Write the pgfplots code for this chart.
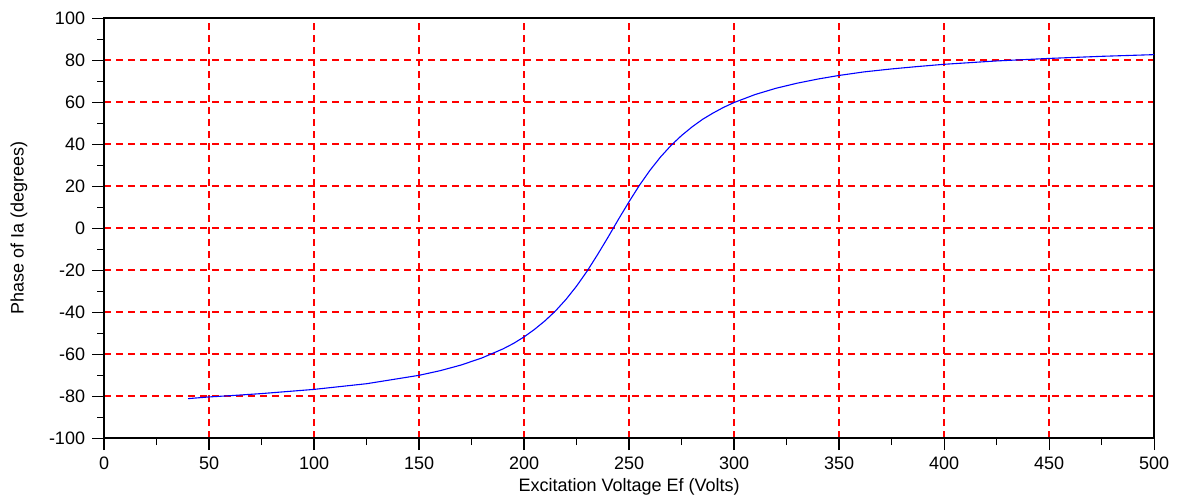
\documentclass[border=0pt]{standalone}
\usepackage{fontspec}
\setmainfont{Liberation Sans}
\usepackage{pgfplots}
\pgfplotsset{compat=1.18}
\begin{document}
\begin{tikzpicture}
\useasboundingbox (-52.05pt,-32.45pt) rectangle (536.45pt,219.05pt);
\begin{axis}[
  scale only axis,
  width=525pt, height=210pt,
  xmin=0, xmax=500, ymin=-100, ymax=100,
  xtick={0,50,...,500}, ytick={-100,-80,...,100},
  minor x tick num=1, minor y tick num=1,
  tick align=outside,
  xtick pos=left, ytick pos=left,
  major tick length=6pt, minor tick length=3.5pt,
  tick style={line width=0.6pt, color=black},
  axis line style={black, line width=0.65pt},
  grid=major,
  major grid style={color=red, solid, dash pattern=on 3.5pt off 2.5pt, line width=0.7pt},
  /pgf/number format/assume math mode=true,
  ticklabel style={font=\fontsize{9}{10}\selectfont},
  label style={font=\fontsize{9}{10}\selectfont},
  xlabel={Excitation Voltage Ef (Volts)},
  ylabel={Phase of Ia (degrees)},
  xlabel style={yshift=2.5pt},
  ylabel style={yshift=4pt},
]
\addplot[blue, line width=0.55pt] coordinates {
(40,-81.2) (50,-80.4) (60,-79.8) (75,-78.8) (100,-76.8) (125,-74.1) (150,-70.1)
(160,-67.9) (170,-65.2) (180,-61.8) (190,-57.5) (195,-54.9) (200,-51.8)
(205,-48.2) (210,-44.1) (215,-39.4) (220,-33.9) (225,-27.6) (230,-20.5)
(235,-12.6) (240,-4.3) (245,4.3) (250,12.6) (255,20.5) (260,27.6) (265,33.9)
(270,39.4) (275,44.1) (280,48.2) (285,51.8) (290,54.8) (295,57.5) (300,59.8)
(310,63.6) (320,66.6) (330,69.0) (340,71.0) (350,72.7) (362,74.4) (375,75.8)
(387,76.9) (400,78.0) (425,79.6) (450,80.8) (475,81.8) (500,82.6)
};
\end{axis}
\end{tikzpicture}
\end{document}
